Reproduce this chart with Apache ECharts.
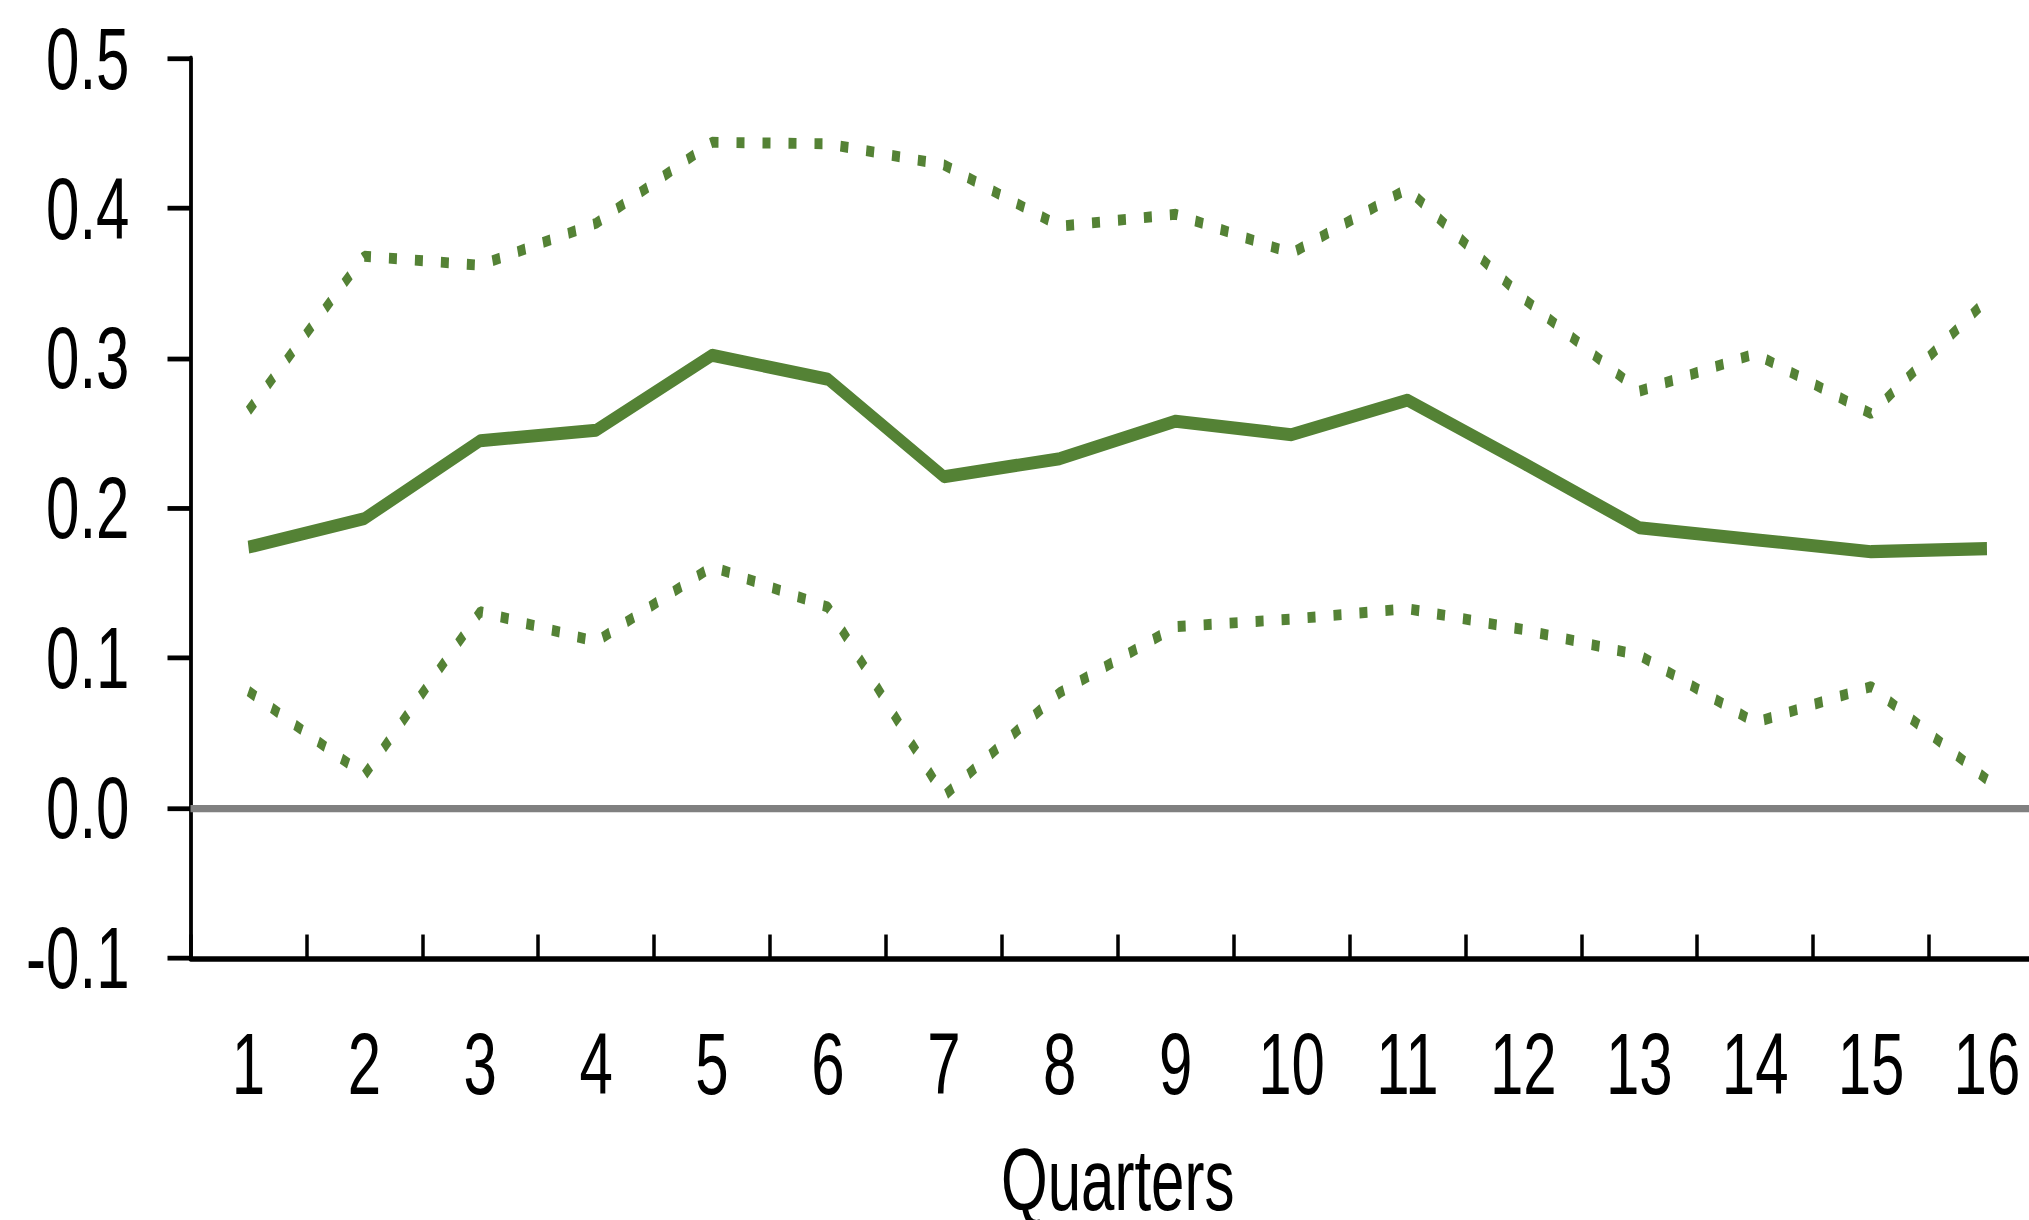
<!DOCTYPE html>
<html>
<head>
<meta charset="utf-8">
<title>Quarters</title>
<script src="https://cdn.jsdelivr.net/npm/echarts@6/dist/echarts.min.js"></script>
<style>
  html { margin: 0; padding: 0; background: #ffffff; overflow: hidden; }
  body { margin: 0; padding: 0; background: #ffffff; width: 2029px; height: 1220px; }
  /* the chart is laid out on a shorter canvas and stretched vertically,
     which gives the tall, narrow lettering of the original figure */
  #chart { width: 2029px; height: 841px; transform: scaleY(1.450654); transform-origin: 0 0; }
</style>
</head>
<body>
<div id="chart"></div>
<script>
// Horizon in quarters
const quarters = ['1','2','3','4','5','6','7','8','9','10','11','12','13','14','15','16'];

// Point estimate of the response
const response = [0.174, 0.193, 0.245, 0.252, 0.302, 0.286, 0.221, 0.233,
                  0.258, 0.249, 0.272, 0.230, 0.187, 0.179, 0.171, 0.173];

// Upper and lower confidence bands
const upperBand = [0.265, 0.368, 0.362, 0.390, 0.444, 0.443, 0.429, 0.388,
                   0.396, 0.370, 0.413, 0.340, 0.278, 0.303, 0.263, 0.339];
const lowerBand = [0.078, 0.022, 0.131, 0.111, 0.161, 0.134, 0.008, 0.077,
                   0.121, 0.126, 0.133, 0.119, 0.102, 0.057, 0.081, 0.019];

// Value axis range and step
const yMin = -0.1, yMax = 0.5, yStep = 0.1;

const green = '#548235';
const font = "'Liberation Sans', Arial, sans-serif";

const chart = echarts.init(document.getElementById('chart'), null, { renderer: 'svg' });

const band = (name, values) => ({
  name: name,
  type: 'line',
  data: values,
  showSymbol: false,
  symbol: 'none',
  z: 3,
  lineStyle: { color: green, width: 7.5, type: [8, 18], cap: 'butt' }
});

chart.setOption({
  animation: false,
  backgroundColor: '#ffffff',
  grid: {
    left: 190.5, right: -15.9, top: 40.2, bottom: 180.6,
    containLabel: false,
    outerBoundsMode: 'none'
  },
  xAxis: {
    type: 'category',
    data: quarters,
    boundaryGap: true,
    name: 'Quarters',
    nameLocation: 'middle',
    nameGap: 123,
    nameTextStyle: { fontFamily: font, fontSize: 60, color: '#000' },
    axisLine: { show: true, onZero: false, lineStyle: { color: '#000', width: 3.8 } },
    axisTick: { show: true, inside: true, length: 16.2, lineStyle: { color: '#000', width: 3.5 } },
    axisLabel: { fontFamily: font, fontSize: 60, color: '#000', margin: 43, interval: 0 },
    splitLine: { show: false }
  },
  yAxis: {
    type: 'value',
    min: yMin, max: yMax, interval: yStep,
    axisLine: { show: true, lineStyle: { color: '#000', width: 3.8 } },
    axisTick: { show: true, length: 23, lineStyle: { color: '#000', width: 3.3 } },
    axisLabel: {
      fontFamily: font, fontSize: 60, color: '#000', margin: 61,
      padding: [0, 0, 8, 0],
      formatter: v => v.toFixed(1)
    },
    splitLine: { show: false }
  },
  series: [
    Object.assign(band('Lower band', lowerBand), {
      markLine: {
        silent: true,
        symbol: 'none',
        label: { show: false },
        lineStyle: { color: '#808080', width: 5, type: 'solid' },
        data: [{ yAxis: 0 }]
      }
    }),
    band('Upper band', upperBand),
    {
      name: 'Response',
      type: 'line',
      data: response,
      showSymbol: false,
      symbol: 'none',
      z: 4,
      lineStyle: { color: green, width: 9, type: 'solid' }
    }
  ]
});
</script>
</body>
</html>
